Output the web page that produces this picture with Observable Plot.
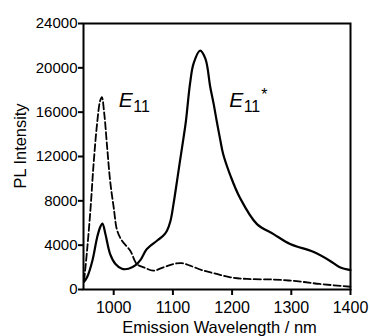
<!DOCTYPE html>
<html><head><meta charset="utf-8">
<script src="https://cdn.jsdelivr.net/npm/d3@7"></script>
<script src="https://cdn.jsdelivr.net/npm/@observablehq/plot@0.6"></script>
<style>body{margin:0;background:#fff}</style>
</head><body><div id="chart"></div>
<script>
// Solid spectrum (E11* dominant)
const solidWavelength = [950, 955, 964, 972, 977, 981, 986, 994, 1003, 1014, 1025, 1037, 1045, 1056, 1073, 1084, 1090, 1096, 1101, 1107, 1112, 1118, 1122, 1129, 1135, 1146, 1155, 1163, 1169, 1174, 1180, 1185, 1197, 1213, 1242, 1270, 1298, 1337, 1365, 1382, 1400];
const solidIntensity  = [700, 1100, 2600, 4700, 5600, 5950, 5000, 3200, 2300, 1870, 1870, 2200, 2650, 3650, 4400, 4870, 5300, 6200, 7700, 9800, 11600, 13700, 15200, 18600, 20400, 21550, 20800, 18300, 16700, 15200, 13500, 12200, 10300, 8300, 5900, 5000, 4100, 3400, 2600, 2000, 1750];
// Dashed spectrum (E11 dominant)
const dashedWavelength = [950, 955, 961, 966, 972, 977, 980, 984, 989, 994, 1000, 1006, 1014, 1028, 1039, 1051, 1067, 1084, 1101, 1115, 1129, 1152, 1174, 1197, 1225, 1270, 1309, 1348, 1400];
const dashedIntensity  = [800, 3500, 7400, 11300, 15000, 17000, 17350, 15900, 12800, 9800, 7400, 5300, 4400, 3500, 2300, 2000, 1700, 2000, 2300, 2380, 2150, 1700, 1400, 1100, 950, 900, 750, 500, 250];
const xTicks = [1000, 1100, 1200, 1300, 1400];
const yTicks = [0, 4000, 8000, 12000, 16000, 20000, 24000];
const xLabel = "Emission Wavelength / nm";
const yLabel = "PL Intensity";
const peakLabelX = [1008.5, 1195];
const peakLabelY = [16450, 16450];
const peakLabelMain = ["E", "E"];
const peakLabelSub = ["11", "11"];
const peakLabelSup = ["", "*"];

const solid = solidWavelength.map((w, i) => ({w, v: solidIntensity[i]}));
const dashed = dashedWavelength.map((w, i) => ({w, v: dashedIntensity[i]}));
const labels = peakLabelX.map((x, i) => ({x, y: peakLabelY[i], main: peakLabelMain[i], sub: peakLabelSub[i], sup: peakLabelSup[i]}));

const chart = Plot.plot({
  width: 370,
  height: 336,
  marginLeft: 83,
  marginRight: 20,
  marginTop: 23,
  marginBottom: 47,
  style: {fontFamily: "Arial, 'Liberation Sans', sans-serif", fontSize: "15px", color: "black", background: "white"},
  x: {domain: [949, 1400], ticks: xTicks, label: null},
  y: {domain: [0, 24000], ticks: yTicks, label: null},
  marks: [
    Plot.axisX({ticks: xTicks, tickSize: 6, tickPadding: 6, strokeWidth: 2, fontSize: 16, tickFormat: d => String(d), label: null}),
    Plot.axisY({ticks: yTicks, tickSize: 5, tickPadding: 1, strokeWidth: 2, fontSize: 15, tickFormat: d => String(d), label: null}),
    Plot.line(dashed, {x: "w", y: "v", curve: "catmull-rom", stroke: "black", strokeWidth: 1.8, strokeDasharray: "7,3"}),
    Plot.line(solid, {x: "w", y: "v", curve: "catmull-rom", stroke: "black", strokeWidth: 2.2}),
    Plot.frame({stroke: "black", strokeWidth: 2}),
    Plot.text(labels, {x: "x", y: "y", text: "main", textAnchor: "start", lineAnchor: "bottom", fontSize: 21, fontStyle: "italic", fill: "black"}),
    Plot.text(labels, {x: "x", y: "y", text: "sub", textAnchor: "start", lineAnchor: "bottom", fontSize: 16, dx: 14.5, dy: 5, fill: "black"}),
    Plot.text(labels, {x: "x", y: "y", text: "sup", textAnchor: "start", lineAnchor: "bottom", fontSize: 16, dx: 32, dy: -7, fill: "black"}),
    Plot.text([xLabel], {frameAnchor: "bottom", text: d => d, textAnchor: "middle", lineAnchor: "bottom", dy: 43, dx: 2.5, fontSize: 16.5, fill: "black"}),
    Plot.text([yLabel], {frameAnchor: "left", text: d => d, rotate: -90, textAnchor: "middle", lineAnchor: "bottom", dx: -58, dy: -10.5, fontSize: 16.4, fill: "black"})
  ]
});
document.getElementById("chart").append(chart);
</script>
</body></html>
